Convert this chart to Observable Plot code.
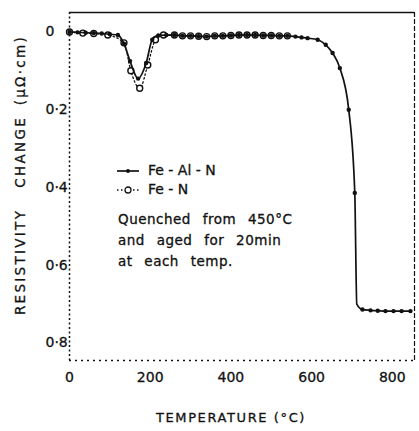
<!DOCTYPE html>
<html>
<head>
<meta charset="utf-8">
<script src="https://cdn.jsdelivr.net/npm/d3@7"></script>
<script src="https://cdn.jsdelivr.net/npm/@observablehq/plot@0.6"></script>
<style>
  html, body { margin: 0; padding: 0; background: #fff; }
  #wrap { position: relative; width: 419px; height: 431px; font-family: "DejaVu Sans", sans-serif; color: #111; -webkit-text-stroke: 0.3px #111; }
  #chart svg text { stroke: #111; stroke-width: 0.3px; }
  #legend { position: absolute; left: 116px; top: 161px; font-size: 14px; line-height: 19px; }
  #legend .row { display: flex; align-items: center; height: 19px; }
  #legend svg { margin-right: 8px; }
  #note { position: absolute; left: 118px; top: 209px; font-size: 13.5px; line-height: 21px; word-spacing: 7px; letter-spacing: 0.5px; }
  #ytitle { position: absolute; left: 20px; top: 175px; transform: translate(-50%, -50%) rotate(-90deg); white-space: pre; font-size: 13.5px; letter-spacing: 2.3px; word-spacing: 4px; }
  #xtitle { position: absolute; left: 231px; top: 417px; transform: translate(-50%, -50%); white-space: nowrap; font-size: 13px; letter-spacing: 1.6px; }
</style>
</head>
<body>
<div id="wrap">
  <div id="chart"></div>
  <div id="legend"></div>
  <div id="note"></div>
  <div id="ytitle"></div>
  <div id="xtitle"></div>
</div>
<script>
// ---- data ----
const seriesNames = ["Fe-Al-N", "Fe-N"];
const feAlNTemp = [0, 20, 40, 60, 80, 100, 120, 135, 150, 170, 190, 205, 220, 240, 260, 280, 300, 320, 340, 360, 380, 400, 420, 440, 460, 480, 500, 520, 540, 560, 575, 590, 615, 635, 652, 670, 692, 707, 712, 726, 746, 764, 783, 803, 823, 845];
const feAlNValue = [0.0, 0.001, 0.002, 0.003, 0.004, 0.006, 0.008, 0.03, 0.075, 0.12, 0.08, 0.02, 0.009, 0.008, 0.008, 0.01, 0.01, 0.011, 0.012, 0.01, 0.01, 0.009, 0.008, 0.008, 0.008, 0.009, 0.009, 0.01, 0.01, 0.012, 0.014, 0.016, 0.02, 0.033, 0.054, 0.093, 0.2, 0.414, 0.70, 0.714, 0.716, 0.717, 0.718, 0.718, 0.718, 0.718];
const feAlNMarked = feAlNTemp.map(t => t !== 712);
const feNTemp = [0, 33, 60, 95, 135, 152, 174, 194, 213, 233, 260, 280, 300, 320, 340, 360, 380, 400, 420, 440, 460, 480, 500, 520, 540];
const feNValue = [0.0, 0.003, 0.004, 0.008, 0.028, 0.1, 0.145, 0.085, 0.02, 0.008, 0.008, 0.01, 0.01, 0.011, 0.012, 0.01, 0.01, 0.009, 0.008, 0.008, 0.008, 0.009, 0.009, 0.01, 0.01];

const xTicks = [0, 200, 400, 600, 800];
const yTicks = [0, 0.2, 0.4, 0.6, 0.8];
const xDomain = [0, 855];
const yDomain = [-0.05, 0.845];
const xTitle = "TEMPERATURE (°C)";
const yTitle = "RESISTIVITY  CHANGE (μΩ·cm)";
const noteLines = ["Quenched from 450°C", "and aged for 20min", "at each temp."];

// ---- build tables ----
const feAlN = feAlNTemp.map((t, i) => ({t, v: feAlNValue[i], m: feAlNMarked[i]}));
const feN = feNTemp.map((t, i) => ({t, v: feNValue[i]}));

const ink = "#111";
const fmt = d => d === 0 ? "0" : d.toFixed(1).replace(".", "·");

const chart = Plot.plot({
  width: 419,
  height: 431,
  marginLeft: 69,
  marginRight: 5,
  marginTop: 12,
  marginBottom: 71,
  style: {fontFamily: "DejaVu Sans, sans-serif", background: "#fff", color: ink, overflow: "visible"},
  x: {domain: xDomain},
  y: {domain: yDomain, reverse: true},
  marks: [
    // frame
    Plot.ruleY([yDomain[0]], {stroke: ink, strokeWidth: 1.6}),
    Plot.ruleY([yDomain[1]], {stroke: ink, strokeWidth: 1.5, strokeDasharray: "2,4"}),
    Plot.ruleX([xDomain[0]], {stroke: ink, strokeWidth: 1.5, strokeDasharray: "2,2.5"}),
    Plot.ruleX([xDomain[1]], {stroke: ink, strokeWidth: 1.2, strokeDasharray: "5,2"}),
    // axes
    Plot.axisX({ticks: xTicks, tickSize: 0, tickPadding: 12, tickFormat: d => String(d), fontSize: 14, label: null}),
    Plot.axisY({ticks: yTicks, tickSize: 0, tickPadding: 0, textAnchor: "start", dx: -24, tickFormat: fmt, fontSize: 14, label: null}),
    // Fe-N (dotted, open circles)
    Plot.line(feN, {x: "t", y: "v", curve: "monotone-x", stroke: ink, strokeWidth: 1.3, strokeDasharray: "1.5,2.5"}),
    Plot.dot(feN, {x: "t", y: "v", r: 3, fill: "#fff", stroke: ink, strokeWidth: 1.4}),
    // Fe-Al-N (solid, filled dots)
    Plot.line(feAlN, {x: "t", y: "v", curve: "monotone-x", stroke: ink, strokeWidth: 1.7}),
    Plot.dot(feAlN.filter(d => d.m), {x: "t", y: "v", r: 2.2, fill: ink})
  ]
});
document.getElementById("chart").appendChild(chart);

document.getElementById("ytitle").textContent = yTitle;
document.getElementById("xtitle").textContent = xTitle;

// ---- legend ----
const legend = document.getElementById("legend");
seriesNames.forEach((name, i) => {
  const row = document.createElement("div");
  row.className = "row";
  const sw = d3.create("svg").attr("width", 24).attr("height", 10);
  sw.append("line").attr("x1", 1).attr("x2", 23).attr("y1", 5).attr("y2", 5)
    .attr("stroke", ink).attr("stroke-width", i === 0 ? 1.7 : 1.3)
    .attr("stroke-dasharray", i === 0 ? null : "1.5,2.5");
  sw.append("circle").attr("cx", 12).attr("cy", 5).attr("r", i === 0 ? 2 : 3)
    .attr("fill", i === 0 ? ink : "#fff").attr("stroke", ink).attr("stroke-width", i === 0 ? 0 : 1.3);
  row.appendChild(sw.node());
  const label = document.createElement("span");
  label.textContent = name.replace(/-/g, " - ");
  row.appendChild(label);
  legend.appendChild(row);
});
const note = document.getElementById("note");
noteLines.forEach(line => {
  const d = document.createElement("div");
  d.textContent = line;
  note.appendChild(d);
});
</script>
</body>
</html>
